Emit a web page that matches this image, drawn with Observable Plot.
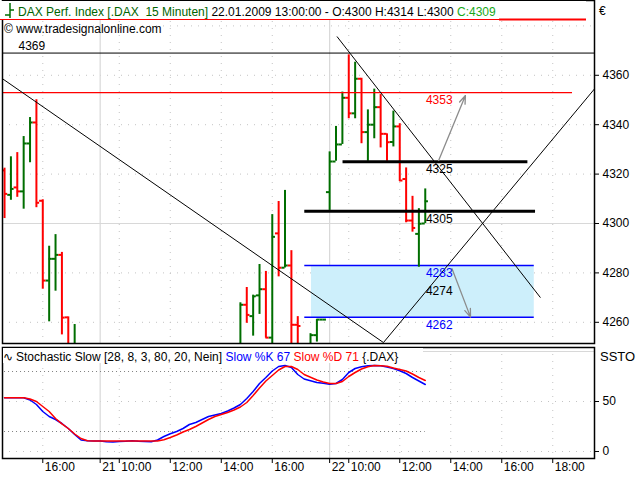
<!DOCTYPE html>
<html><head><meta charset="utf-8">
<script src="https://cdn.jsdelivr.net/npm/d3@7"></script>
<script src="https://cdn.jsdelivr.net/npm/@observablehq/plot@0.6"></script>
<style>
body{margin:0;background:#fff;}
#wrap{position:relative;width:640px;height:480px;overflow:hidden;background:#fff;font-family:"Liberation Sans",Arial,sans-serif;}
#main,#lower{position:absolute;left:0;}
#main{top:0}
#lower{top:345px}
#ov{position:absolute;left:0;top:0;}
</style></head><body>
<div id="wrap"><div id="main"></div><div id="lower"></div>
<svg id="ov" width="640" height="480" font-family="Liberation Sans, Arial, sans-serif" font-size="12"></svg></div>
<script>
// ---------- data ----------
const barSlot  = [-6,-5,-4,-3,-2,-1,0,1,2,3,4,5, 31,32,33,34,35,36,37,38,39,40,42,43,44, 45,46,47,48,49,50,51,52,53,54,55,56,57,58,59,60];
const barOpen  = [4321.5,4311.6,4314.6,4313,4332.4,4340.9,4309.2,4276.9,4285.7,4287.3,4262,4244, 4248,4267.1,4262.5,4270.9,4273.4,4253.8,4296,4282.1,4283,4259,4248,4254.8,4261.1, 4312.7,4325.1,4332,4350.9,4344.6,4358.6,4337,4340,4347.1,4336.3,4333,4339.3,4318,4301.2,4295.8,4300];
const barHigh  = [4322.4,4327,4328.7,4335.2,4342.9,4350.1,4309.6,4290.8,4295.5,4288.3,4262.2,4259.1, 4267.9,4274.1,4271,4283.4,4280.6,4303.6,4308.9,4313.4,4289,4262.3,4255.4,4261.1,4261.1, 4329,4339.3,4353.2,4368.3,4365.3,4358.8,4346,4354.4,4352.2,4336.3,4345.5,4340.4,4322.5,4311,4306,4314];
const barLow   = [4302,4309.4,4310.6,4305.8,4324.6,4306.4,4273.4,4260.2,4272.6,4254.9,4240,4238, 4245,4259.6,4254.4,4263.2,4253.6,4245,4278.4,4282,4245,4245,4245,4252,4261.1, 4305.3,4325.2,4332,4342.4,4342.4,4332.3,4325.2,4334.3,4330.6,4325.2,4331,4317,4300.3,4296.5,4282.3,4300];
const barClose = [4312,4314,4313,4332.4,4340.9,4308.4,4276.9,4285.7,4287.3,4261.9,4245,4249, 4267.1,4263,4270.5,4273.4,4253.8,4294.6,4282.1,4283,4259,4258.5,4254.8,4261.1,4261.1, 4325.1,4332,4350.9,4344.6,4358.6,4337,4340,4347.1,4336.3,4332.9,4339.3,4317.4,4301.2,4298.2,4299.9,4309];

const tickSlots  = [0, 9, 12, 20, 28, 36, 45, 48, 56, 64, 72, 80];
const tickLabels = ["16:00","21","10:00","12:00","14:00","16:00","22","10:00","12:00","14:00","16:00","18:00"];
const daySlots   = [9, 45];
const priceTicks = [4260, 4280, 4300, 4320, 4340, 4360];
const priceGrid  = [4260, 4280, 4320, 4340, 4360, 4380];
const stochTicks = [0, 50];
const stochLevels = [20, 80];

const stochSlot = [-6,-5,-4,-3,-2,-1,0,1,2,3,4,5,6,7,8,9,10,11,12,13,14,15,16,17,18,19,20,21,22,23,24,25,26,27,28,29,30,31,32,33,34,35,36,37,38,39,40,41,42,43,44,45,46,47,48,49,50,51,52,53,54,55,56,57,58,59,60];
const slowK = [53.7,53.7,53.7,53.7,51.5,47,40,35,32,28,23,17,11.5,10.7,10.5,10.5,9.7,9.5,10,10.3,10.8,10.3,10,9.8,11.5,15,17.7,20,23,27,29,32,35,36.5,38,40.5,43.5,47,53,60,68,74,80.5,85,86,84,77,72.5,70.7,69,68.3,67.3,68,72,79,83,84.7,85.7,86,85.8,84.5,83,80.8,78,74,70.5,67];
const slowD = [53.7,53.7,53.7,53.7,52.5,50,45,40,33,27.7,23,17.5,13,10.7,10.5,10.5,10.5,10.4,10.5,10.5,10.5,10.5,10.4,10.5,10.6,11.7,14,16.5,19.5,22,25,28.5,32,35,37,39,41.5,44.5,49,56,63.5,70.5,76,81.5,85,85,82,77,74.3,71.5,69.5,68,68,70,75,79,82.5,84.7,86,85.8,85.3,83.5,82,80.5,77.5,74,71];

// drawn objects (in slot / price units)
const thinLevels = [{price: 4369, from: -6.32, to: 86.55}];
const redLevels  = [{price: 4353, from: -6.32, to: 83.1}];
const boldLevels = [{price: 4325, from: 47.1, to: 76.1}, {price: 4305, from: 41.1, to: 77.3}];
const zoneLow = 4262, zoneHigh = 4283, zoneFrom = 42.15, zoneTo = 77.1, zoneLineFrom = 41.1;
const trendX1 = [-6.32, 53.44, 46.15];
const trendY1 = [4358.6, 4251.8, 4375.7];
const trendX2 = [53.44, 86.55, 78.07];
const trendY2 = [4251.8, 4354.5, 4270.0];
const arrowX1 = [62.1, 64.2], arrowY1 = [4325.5, 4281.7];
const arrowX2 = [66.3, 67.1], arrowY2 = [4351.8, 4262.1];
const labelSlot = 62.2;
const labelText  = ["4353","4325","4305","4283","4274","4262"];
const labelPrice = [4353, 4325, 4305, 4283, 4272.5, 4262];
const labelKind  = ["red","black","black","blue","mid","blue"];
const topLabel = {slot: -3.81, price: 4369, text: "4369"};

const xDomain = [-6.32, 86.55];
const yDomain = [4251.42, 4390.28];

// ---------- build ----------
const bars = barSlot.map((s,i)=>({slot:s, open:barOpen[i], high:barHigh[i], low:barLow[i], close:barClose[i]}));
const up = bars.filter(d=>d.close>=d.open), down = bars.filter(d=>d.close<d.open);
const GREEN = "#006e00", RED = "#ff0000", BLUE = "#0000ff";
const trends = trendX1.map((x,i)=>({x1:x, y1:trendY1[i], x2:trendX2[i], y2:trendY2[i]}));
const arrows = arrowX1.map((x,i)=>({x1:x, y1:arrowY1[i], x2:arrowX2[i], y2:arrowY2[i]}));
const labels = labelText.map((t,i)=>({text:t, price:labelPrice[i], kind:labelKind[i], slot:labelSlot}));
const zone = [{from:zoneFrom, to:zoneTo, low:zoneLow, high:zoneHigh}];
const zoneLines = [zoneHigh, zoneLow].map(p=>({price:p, from:zoneLineFrom, to:zoneTo}));
const gridSlots = tickSlots.filter(s=>!daySlots.includes(s));
const style = {fontFamily:"Liberation Sans, Arial, sans-serif", fontSize:"12px", background:"transparent", overflow:"visible", color:"black"};

function barMarks(data, color){
  return [
    Plot.ruleX(data, {x:"slot", y1:"low", y2:"high", stroke:color, strokeWidth:2, clip:true}),
    Plot.ruleY(data, {y:"open", x1:d=>d.slot-0.5, x2:"slot", stroke:color, strokeWidth:2, clip:true}),
    Plot.ruleY(data, {y:"close", x1:"slot", x2:d=>d.slot+0.5, stroke:color, strokeWidth:2, clip:true})
  ];
}

const main = Plot.plot({
  width:640, height:344, marginLeft:2, marginRight:46, marginTop:0, marginBottom:1,
  style,
  x:{domain:xDomain, axis:null},
  y:{domain:yDomain, axis:"right", ticks:priceTicks, tickFormat:d=>String(d), tickSize:4, tickPadding:4, label:null},
  marks:[
    Plot.ruleY(priceGrid, {stroke:"#c4c4c4", strokeDasharray:"1,6"}),
    Plot.ruleY([4300], {stroke:"#d8d8d8", strokeWidth:1.2}),
    Plot.ruleX(gridSlots, {stroke:"#c4c4c4", strokeDasharray:"1,6"}),
    Plot.ruleX(daySlots, {stroke:"#d8d8d8", strokeWidth:1.2}),
    Plot.rect(zone, {x1:"from", x2:"to", y1:"low", y2:"high", fill:"#cdeffb"}),
    Plot.ruleY(zoneLines, {y:"price", x1:"from", x2:"to", stroke:BLUE, strokeWidth:1.5}),
    ...barMarks(up, GREEN),
    ...barMarks(down, RED),
    Plot.ruleY(boldLevels, {y:"price", x1:"from", x2:"to", stroke:"black", strokeWidth:3}),
    Plot.ruleY(redLevels, {y:"price", x1:"from", x2:"to", stroke:RED, strokeWidth:1.2}),
    Plot.ruleY(thinLevels, {y:"price", x1:"from", x2:"to", stroke:"black", strokeWidth:1}),
    Plot.link(trends, {x1:"x1", y1:"y1", x2:"x2", y2:"y2", stroke:"black", strokeWidth:1, clip:true}),
    Plot.arrow(arrows, {x1:"x1", y1:"y1", x2:"x2", y2:"y2", stroke:"#8c8c8c", strokeWidth:1.3, headLength:10, headAngle:40}),
    Plot.text(labels.filter(d=>d.kind!=="mid"), {x:"slot", y:"price", text:"text", lineAnchor:"top", dy:3,
      fill:d=>d.kind==="red"?RED:(d.kind==="blue"?BLUE:"black")}),
    Plot.text(labels.filter(d=>d.kind==="mid"), {x:"slot", y:"price", text:"text", fill:"black"}),
    Plot.text([topLabel], {x:"slot", y:"price", text:"text", textAnchor:"start", lineAnchor:"bottom", dy:-3, fill:"black"}),
    Plot.frame({stroke:"black", strokeWidth:1.5})
  ]
});
document.getElementById("main").appendChild(main);

const stoch = stochSlot.map((s,i)=>({slot:s, k:slowK[i], d:slowD[i]}));
const firstSlot = stochSlot[0], lastSlot = stochSlot[stochSlot.length-1];
const levelRows = stochLevels.map(v=>({v, from:firstSlot, to:lastSlot}));
const tickRows = tickSlots.map((s,i)=>({slot:s, label:tickLabels[i]}));

const lower = Plot.plot({
  width:640, height:135, marginLeft:2, marginRight:46, marginTop:2, marginBottom:22,
  style,
  x:{domain:xDomain, axis:"bottom", ticks:tickSlots, tickFormat:()=>"", tickSize:5, label:null},
  y:{domain:[-7,104], axis:"right", ticks:stochTicks, tickFormat:d=>String(d), tickSize:4, tickPadding:4, label:null},
  marks:[
    Plot.ruleY(stochTicks, {stroke:"#c4c4c4", strokeDasharray:"1,6"}),
    Plot.ruleY([100], {stroke:"#d8d8d8"}),
    Plot.ruleX(gridSlots, {stroke:"#c4c4c4", strokeDasharray:"1,6"}),
    Plot.ruleX(daySlots, {stroke:"#d8d8d8", strokeWidth:1.2}),
    Plot.ruleY(levelRows, {y:"v", x1:"from", x2:"to", stroke:"#808080", strokeDasharray:"1,3"}),
    Plot.line(stoch, {x:"slot", y:"k", stroke:BLUE, strokeWidth:1.5}),
    Plot.line(stoch, {x:"slot", y:"d", stroke:RED, strokeWidth:1.5}),
    Plot.text(tickRows, {x:"slot", text:"label", frameAnchor:"bottom", dy:12, dx:2, textAnchor:"start", fill:"black"}),
    Plot.frame({stroke:"black", strokeWidth:1.5})
  ]
});
document.getElementById("lower").appendChild(lower);

// ---------- overlay texts ----------
const ns = "http://www.w3.org/2000/svg";
const ov = document.getElementById("ov");
function el(tag, attrs, text){
  const e = document.createElementNS(ns, tag);
  for (const k in attrs) e.setAttribute(k, attrs[k]);
  if (text!=null) e.textContent = text;
  ov.appendChild(e); return e;
}
el("rect", {x:1, y:1, width:585, height:18, fill:"#fff"});
el("line", {x1:0, y1:19.5, x2:586, y2:19.5, stroke:RED, "stroke-width":1});
el("line", {x1:499, y1:19.5, x2:586, y2:19.5, stroke:RED, "stroke-width":2});
el("path", {d:"M10,3V18M5,15H10M10,10H14", stroke:GREEN, "stroke-width":1.5, fill:"none"});
const h = el("text", {x:18, y:16});
const parts = [["DAX Perf. Index [.DAX  15 Minuten]", "#006400"], [" 22.01.2009 13:00:00 - O:4300 H:4314 L:4300 ", "#000"], ["C:4309", "#18a818"]];
for (const [t,c] of parts){ const s = document.createElementNS(ns,"tspan"); s.setAttribute("fill",c); s.textContent=t; h.appendChild(s); }
h.setAttribute("xml:space","preserve"); h.style.whiteSpace = "pre";
el("text", {x:4, y:33, fill:"#000"}, "© www.tradesignalonline.com");
el("text", {x:599, y:15, fill:"#000"}, "€");
el("text", {x:600, y:361, fill:"#000", "font-size":13}, "SSTO");
el("rect", {x:3, y:348, width:420, height:15, fill:"#fff"});
el("text", {x:3, y:361, fill:"#000"}, "∿");
const st = el("text", {x:16, y:361});
const sparts = [["Stochastic Slow [28, 8, 3, 80, 20, Nein]","#000"],[" Slow %K 67","#0000ff"],[" Slow %D 71","#ff0000"],[" {.DAX}","#000"]];
for (const [t,c] of sparts){ const s = document.createElementNS(ns,"tspan"); s.setAttribute("fill",c); s.textContent=t; st.appendChild(s); }
</script>
</body></html>
